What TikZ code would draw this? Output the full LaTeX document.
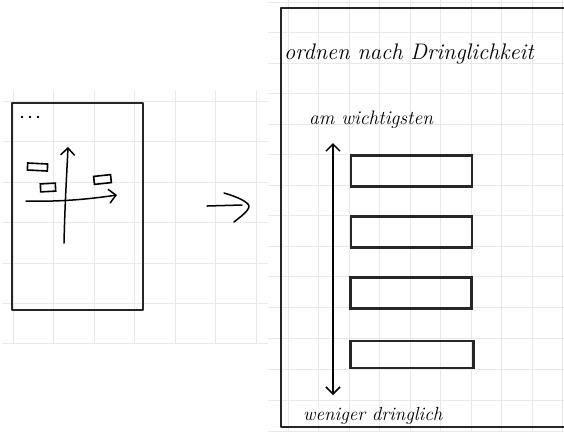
\documentclass[tikz,border=0pt]{standalone}
\usetikzlibrary{arrows.meta}
\begin{document}
\begin{tikzpicture}[x=1pt,y=-1pt,
  gridline/.style={draw=black!9,line width=1pt},
  frame/.style={draw=black!85,line width=2pt,line join=round},
  bar/.style={draw=black!85,line width=2.1pt,rectangle,inner sep=0pt,minimum width=121pt,minimum height=31pt},
  mini/.style={draw=black,line width=1.6pt,rectangle,inner sep=0pt},
  pen/.style={draw=black,line width=1.5pt,line cap=round,line join=round},
  barb/.tip={Straight Barb[length=7pt,width=14pt,line width=1.5pt]},
  hand/.style={font=\itshape, text=black, inner sep=0pt}
]
\useasboundingbox (0,0) rectangle (564,432);
\fill[white] (0,0) rectangle (564,432);
% left grid
\foreach \x in {13,53.5,94,134.5,175,215.5,256.5} \draw[gridline] (\x,91) -- (\x,344);
\foreach \y in {101,141.5,182,222.5,263,303,343} \draw[gridline] (3,\y) -- (268,\y);
% right grid
\foreach \x in {288,318.5,349,379.5,410,440.5,471,501.5,532,562.5} \draw[gridline] (\x,0) -- (\x,432);
\foreach \y in {2,32.5,63,93.5,124,154.5,185,215.5,246,276.5,307,338,369,400,431} \draw[gridline] (268,\y) -- (564,\y);

% left phone
\node[frame,rectangle,inner sep=0pt,minimum width=131pt,minimum height=207pt,anchor=north west] (phoneA) at (11,102) {};
\node[inner sep=0pt] (dots) at (30,117) {};
\foreach \dx in {-8,0,8} \fill[black] ([xshift=\dx pt]dots.center) circle (1.3pt);
\coordinate (vA0) at (64,243);
\coordinate (vA1) at (68,147);
\coordinate (hA0) at (26,201);
\coordinate (hA1) at (117,195);
\draw[pen,-barb] (vA0) .. controls (65,200) and (67,170) .. (vA1);
\draw[pen,-barb] (hA0) .. controls (60,202) and (90,199) .. (hA1);
\node[mini,minimum width=20pt,minimum height=7pt,rotate=-3] (mA) at (37.5,167) {};
\node[mini,minimum width=15pt,minimum height=8pt,rotate=3] (mB) at (48,187.5) {};
\node[mini,minimum width=17pt,minimum height=8pt,rotate=6] (mC) at (102.5,179.5) {};

% middle arrow
\coordinate (mid0) at (207,206);
\coordinate (mid1) at (242,205);
\draw[pen] (mid0) -- (mid1);
\draw[pen] (224,193) .. controls (238,197) and (248,202) .. (249,206) .. controls (249,211) and (240,217) .. (234,222);

% right phone
\draw[frame] (566,8) -- (281,8) -- (281,427) -- (566,427);
\coordinate (phoneB) at (281,8);
\node[hand,font=\itshape\fontsize{22.5}{24}\selectfont,anchor=base west] (title) at (284,59) {ordnen nach Dringlichkeit};
\node[hand,font=\itshape\fontsize{19.5}{22}\selectfont,anchor=base west] (top) at (309,124) {am wichtigsten};
\node[hand,font=\itshape\fontsize{19}{22}\selectfont,anchor=base west] (bottom) at (303,420) {weniger dringlich};
\coordinate (ax0) at (333,143);
\coordinate (ax1) at (333,395);
\draw[pen,barb-barb] (ax0) -- (ax1);
\node[bar] (b1) at (411.5,171) {};
\node[bar] (b2) at (411.5,232) {};
\node[bar] (b3) at (411,293) {};
\node[bar,minimum width=123pt,minimum height=27pt] (b4) at (412,354.5) {};
\end{tikzpicture}
\end{document}
